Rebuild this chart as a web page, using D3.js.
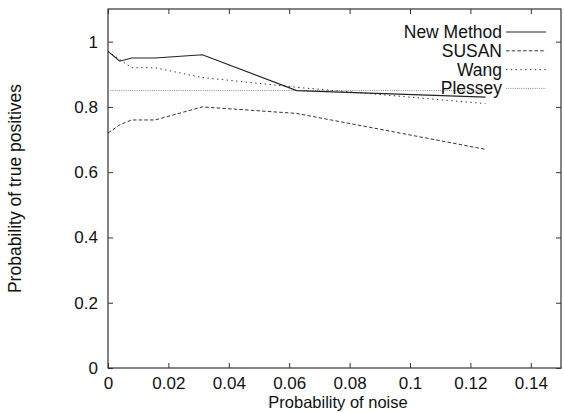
<!DOCTYPE html>
<html>
<head>
<meta charset="utf-8">
<script src="https://cdn.jsdelivr.net/npm/d3@7"></script>
<style>
  html, body { margin: 0; padding: 0; background: #fff; }
  svg text { font-family: "Liberation Sans", Arial, sans-serif; fill: #111; }
</style>
</head>
<body>
<svg id="chart" width="564" height="413"></svg>
<script>
// Noise levels (x) and detection rates (y) for each corner detector
const noiseProb = [0, 0.0039, 0.0078, 0.0156, 0.03125, 0.0625, 0.125];
const newMethod = [0.97, 0.94, 0.95, 0.95, 0.96, 0.85, 0.83];
const susan     = [0.72, 0.745, 0.76, 0.76, 0.80, 0.78, 0.67];
const wang      = [0.97, 0.945, 0.92, 0.92, 0.89, 0.86, 0.81];
const plessey   = [0.85, 0.85, 0.85, 0.85, 0.85, 0.85, 0.85];

const seriesNames = ["New Method", "SUSAN", "Wang", "Plessey"];
const xTicks = [0, 0.02, 0.04, 0.06, 0.08, 0.1, 0.12, 0.14];
const yTicks = [0, 0.2, 0.4, 0.6, 0.8, 1];

const styles = {
  "New Method": { stroke: "#222", dash: null, width: 1.1 },
  "SUSAN":      { stroke: "#333", dash: "3.5,2.2", width: 1 },
  "Wang":       { stroke: "#333", dash: "1.4,3.4", width: 1 },
  "Plessey":    { stroke: "#888", dash: "1,1.2", width: 1 }
};
const values = { "New Method": newMethod, "SUSAN": susan, "Wang": wang, "Plessey": plessey };

const svg = d3.select("#chart");
const mLeft = 108, mRight = 561, mTop = 9, mBottom = 368;

const x = d3.scaleLinear().domain([0, 0.15]).range([mLeft, mRight]);
const y = d3.scaleLinear().domain([0, 1.1]).range([mBottom, mTop]);

const fmt = d => d3.format("~g")(d);
const tickFont = "17px";

// Axes with inward ticks on all four sides
const gB = svg.append("g").attr("transform", `translate(0,${mBottom})`)
  .call(d3.axisBottom(x).tickValues(xTicks).tickFormat(fmt).tickSizeInner(-5).tickSizeOuter(0).tickPadding(9));
const gT = svg.append("g").attr("transform", `translate(0,${mTop})`)
  .call(d3.axisTop(x).tickValues(xTicks).tickFormat("").tickSizeInner(-5).tickSizeOuter(0));
const gL = svg.append("g").attr("transform", `translate(${mLeft},0)`)
  .call(d3.axisLeft(y).tickValues(yTicks).tickFormat(fmt).tickSizeInner(-5).tickSizeOuter(0).tickPadding(10));
const gR = svg.append("g").attr("transform", `translate(${mRight},0)`)
  .call(d3.axisRight(y).tickValues(yTicks).tickFormat("").tickSizeInner(-5).tickSizeOuter(0));

[gB, gT, gL, gR].forEach(g => {
  g.select(".domain").remove();
  g.selectAll(".tick line").attr("stroke", "#333").attr("stroke-width", 1);
  g.selectAll("text").attr("font-family", null).style("font-size", tickFont).attr("fill", "#111");
});

// Plot frame
svg.append("rect")
  .attr("x", mLeft).attr("y", mTop)
  .attr("width", mRight - mLeft).attr("height", mBottom - mTop)
  .attr("fill", "none").attr("stroke", "#333").attr("stroke-width", 1.2);

// Series lines
const line = d3.line().x(d => x(d[0])).y(d => y(d[1]));
seriesNames.slice().reverse().forEach(name => {
  const st = styles[name];
  const pts = noiseProb.map((n, i) => [n, values[name][i]]);
  svg.append("path")
    .datum(pts)
    .attr("d", line)
    .attr("fill", "none")
    .attr("stroke", st.stroke)
    .attr("stroke-width", st.width)
    .attr("stroke-dasharray", st.dash);
});

// Legend
const legend = svg.append("g");
seriesNames.forEach((name, i) => {
  const ly = 32 + i * 18.8;
  const st = styles[name];
  legend.append("text")
    .attr("x", 502).attr("y", ly + 6)
    .attr("text-anchor", "end")
    .style("font-size", "17.5px")
    .text(name);
  legend.append("line")
    .attr("x1", 506).attr("x2", 546)
    .attr("y1", ly).attr("y2", ly)
    .attr("stroke", st.stroke)
    .attr("stroke-width", st.width)
    .attr("stroke-dasharray", st.dash);
});

// Axis titles
svg.append("text")
  .attr("x", 338).attr("y", 408)
  .attr("text-anchor", "middle")
  .style("font-size", "16.5px")
  .text("Probability of noise");

svg.append("text")
  .attr("transform", `translate(21,${(mTop + mBottom) / 2}) rotate(-90)`)
  .attr("text-anchor", "middle")
  .style("font-size", "17.5px")
  .text("Probability of true positives");
</script>
</body>
</html>
